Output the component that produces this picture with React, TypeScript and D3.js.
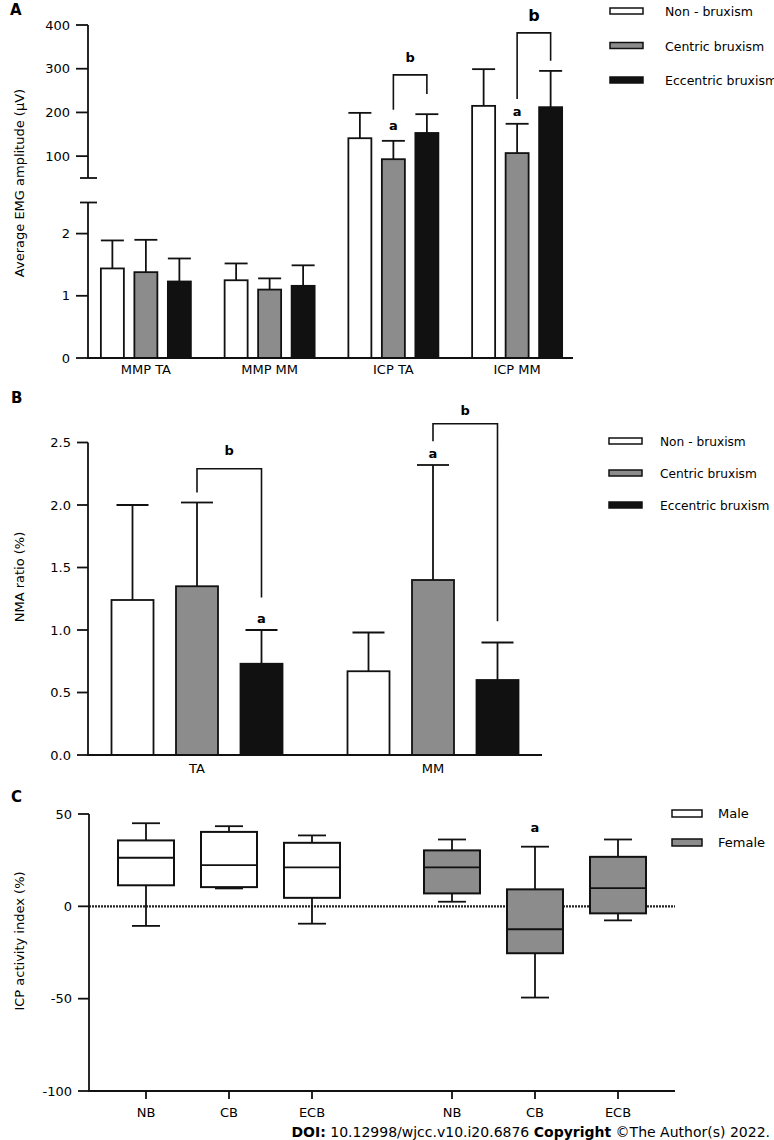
import React from "react";
import * as d3 from "d3";

// ---------- Data ----------
const seriesNames = ["Non - bruxism", "Centric bruxism", "Eccentric bruxism"];
const seriesFill = ["#ffffff", "#8c8c8c", "#111111"];

// Panel A
const groupsA = ["MMP TA", "MMP MM", "ICP TA", "ICP MM"];
const nonMeanA = [1.44, 1.25, 141, 215];
const nonSdA = [0.45, 0.27, 58, 84];
const cenMeanA = [1.38, 1.1, 93, 107];
const cenSdA = [0.52, 0.18, 42, 67];
const eccMeanA = [1.23, 1.16, 153, 212];
const eccSdA = [0.37, 0.33, 43, 83];
const lowTicksA = [0, 1, 2];
const highTicksA = [100, 200, 300, 400];
const bracketsA = [
  { g: "ICP TA", a: 1, b: 2, top: 286, l: 206, r: 242, label: "b", big: false },
  { g: "ICP MM", a: 1, b: 2, top: 382, l: 231, r: 318, label: "b", big: true },
];
const marksA = [
  { g: "ICP TA", s: 1, v: 160, label: "a" },
  { g: "ICP MM", s: 1, v: 192, label: "a" },
];

// Panel B
const groupsB = ["TA", "MM"];
const nonMeanB = [1.24, 0.67];
const nonSdB = [0.76, 0.31];
const cenMeanB = [1.35, 1.4];
const cenSdB = [0.67, 0.92];
const eccMeanB = [0.73, 0.6];
const eccSdB = [0.27, 0.3];
const ticksB = [0, 0.5, 1.0, 1.5, 2.0, 2.5];
const bracketsB = [
  { g: "TA", a: 1, b: 2, top: 2.29, l: 2.1, r: 1.26, label: "b", lv: 2.4 },
  { g: "MM", a: 1, b: 2, top: 2.65, l: 2.51, r: 1.07, label: "b", lv: 2.72 },
];
const marksB = [
  { g: "TA", s: 2, v: 1.06, label: "a" },
  { g: "MM", s: 1, v: 2.38, label: "a" },
];

// Panel C
const categoriesC = ["NB", "CB", "ECB"];
const sexes = ["Male", "Female"];
const sexFill = ["#ffffff", "#8c8c8c"];
const maleMin = [-10.6, 9.7, -9.4];
const maleQ1 = [11.4, 10.4, 4.6];
const maleMed = [26.3, 22.3, 21.1];
const maleQ3 = [35.7, 40.3, 34.4];
const maleMax = [45, 43.4, 38.4];
const femMin = [2.5, -49.4, -7.6];
const femQ1 = [7, -25.4, -3.8];
const femMed = [21.1, -12.4, 9.9];
const femQ3 = [30.3, 9.2, 26.8];
const femMax = [36.2, 32.3, 36.2];
const ticksC = [50, 0, -50, -100];
const marksC = [{ sex: "Female", cat: "CB", v: 40, label: "a" }];

const FONT = "'DejaVu Sans', Verdana, sans-serif";
const FS = 13;

// ---------- Panel A ----------
function PanelA() {
  const axisX = 88;
  const yLow = d3.scaleLinear().domain([0, 2.5]).range([358, 202.5]);
  const yHigh = d3.scaleLinear().domain([50, 400]).range([178, 25]);
  const y = (v: number) => (v <= 2.5 ? yLow(v) : yHigh(v));
  const x0 = d3.scalePoint<string>().domain(groupsA).range([84, 579]).padding(0.5);
  const x1 = d3.scalePoint<string>().domain(seriesNames).range([-33.5, 33.5]);
  const bw = 23;
  const means = [nonMeanA, cenMeanA, eccMeanA];
  const sds = [nonSdA, cenSdA, eccSdA];
  const base = yLow(0);
  const cx = (g: string, s: number) => (x0(g) as number) + (x1(seriesNames[s]) as number);

  return (
    <g>
      <text x={10} y={15} fontSize={15} fontWeight="bold" fontFamily={FONT}>A</text>
      {groupsA.map((g, gi) =>
        seriesNames.map((s, si) => {
          const c = cx(g, si);
          const top = y(means[si][gi]);
          const et = y(means[si][gi] + sds[si][gi]);
          return (
            <g key={g + s}>
              <line x1={c} x2={c} y1={top} y2={et} stroke="#111" strokeWidth={1.8} />
              <line x1={c - bw / 2} x2={c + bw / 2} y1={et} y2={et} stroke="#111" strokeWidth={1.8} />
              <rect x={c - bw / 2} y={top} width={bw} height={base - top} fill={seriesFill[si]} stroke="#111" strokeWidth={1.8} />
            </g>
          );
        })
      )}
      <line x1={axisX} x2={axisX} y1={yHigh(400)} y2={yHigh(50)} stroke="#111" strokeWidth={1.8} />
      <line x1={axisX} x2={axisX} y1={yLow(2.5)} y2={yLow(0) + 1} stroke="#111" strokeWidth={1.8} />
      <line x1={axisX - 8} x2={axisX + 9} y1={yHigh(50)} y2={yHigh(50)} stroke="#111" strokeWidth={1.8} />
      <line x1={axisX - 8} x2={axisX + 9} y1={yLow(2.5)} y2={yLow(2.5)} stroke="#111" strokeWidth={1.8} />
      {highTicksA.map((t) => (
        <g key={"h" + t}>
          <line x1={axisX - 12} x2={axisX} y1={yHigh(t)} y2={yHigh(t)} stroke="#111" strokeWidth={1.8} />
          <text x={axisX - 18} y={yHigh(t) + 4.5} textAnchor="end" fontSize={FS} fontFamily={FONT}>{t}</text>
        </g>
      ))}
      {lowTicksA.map((t) => (
        <g key={"l" + t}>
          <line x1={axisX - 12} x2={axisX} y1={yLow(t)} y2={yLow(t)} stroke="#111" strokeWidth={1.8} />
          <text x={axisX - 18} y={yLow(t) + 4.5} textAnchor="end" fontSize={FS} fontFamily={FONT}>{t}</text>
        </g>
      ))}
      <line x1={axisX} x2={573} y1={base} y2={base} stroke="#111" strokeWidth={1.8} />
      {groupsA.map((g) => (
        <text key={g} x={x0(g)} y={374} textAnchor="middle" fontSize={FS} fontFamily={FONT}>{g}</text>
      ))}
      <text transform={`translate(24,${183}) rotate(-90)`} textAnchor="middle" fontSize={FS} fontFamily={FONT}>
        Average EMG amplitude  (μV)
      </text>
      {bracketsA.map((b, i) => {
        const xa = cx(b.g, b.a);
        const xb = cx(b.g, b.b);
        return (
          <g key={"br" + i}>
            <path d={`M${xa},${y(b.l)}V${y(b.top)}H${xb}V${y(b.r)}`} fill="none" stroke="#111" strokeWidth={1.6} />
            <text x={(xa + xb) / 2} y={y(b.top) - (b.big ? 12 : 13)} textAnchor="middle" fontSize={b.big ? 16 : 13} fontWeight="bold" fontFamily={FONT}>{b.label}</text>
          </g>
        );
      })}
      {marksA.map((m, i) => (
        <text key={"m" + i} x={cx(m.g, m.s)} y={y(m.v)} textAnchor="middle" fontSize={FS} fontWeight="bold" fontFamily={FONT}>{m.label}</text>
      ))}
      {seriesNames.map((s, i) => (
        <g key={"lg" + s}>
          <rect x={610} y={8 + i * 34.5} width={33} height={6} fill={seriesFill[i]} stroke="#111" strokeWidth={1.5} />
          <text x={665} y={16 + i * 34.5} fontSize={12.5} fontFamily={FONT}>{s}</text>
        </g>
      ))}
    </g>
  );
}

// ---------- Panel B ----------
function PanelB() {
  const axisX = 88;
  const y = d3.scaleLinear().domain([0, 2.5]).range([755, 442.5]);
  const x0 = d3.scalePoint<string>().domain(groupsB).range([79, 551]).padding(0.5);
  const x1 = d3.scalePoint<string>().domain(seriesNames).range([-64.5, 64.5]);
  const bw = 42;
  const cap = 32;
  const means = [nonMeanB, cenMeanB, eccMeanB];
  const sds = [nonSdB, cenSdB, eccSdB];
  const base = y(0);
  const cx = (g: string, s: number) => (x0(g) as number) + (x1(seriesNames[s]) as number);
  return (
    <g>
      <text x={11} y={403} fontSize={15} fontWeight="bold" fontFamily={FONT}>B</text>
      {groupsB.map((g, gi) =>
        seriesNames.map((s, si) => {
          const c = cx(g, si);
          const top = y(means[si][gi]);
          const et = y(means[si][gi] + sds[si][gi]);
          return (
            <g key={g + s}>
              <line x1={c} x2={c} y1={top} y2={et} stroke="#111" strokeWidth={1.8} />
              <line x1={c - cap / 2} x2={c + cap / 2} y1={et} y2={et} stroke="#111" strokeWidth={1.8} />
              <rect x={c - bw / 2} y={top} width={bw} height={base - top} fill={seriesFill[si]} stroke="#111" strokeWidth={1.8} />
            </g>
          );
        })
      )}
      <line x1={axisX} x2={axisX} y1={y(2.5)} y2={base + 1} stroke="#111" strokeWidth={1.8} />
      {ticksB.map((t) => (
        <g key={t}>
          <line x1={axisX - 11} x2={axisX} y1={y(t)} y2={y(t)} stroke="#111" strokeWidth={1.8} />
          <text x={axisX - 17} y={y(t) + 4.5} textAnchor="end" fontSize={FS} fontFamily={FONT}>{t.toFixed(1)}</text>
        </g>
      ))}
      <line x1={axisX} x2={542} y1={base} y2={base} stroke="#111" strokeWidth={1.8} />
      {groupsB.map((g) => (
        <text key={g} x={x0(g)} y={773} textAnchor="middle" fontSize={FS} fontFamily={FONT}>{g}</text>
      ))}
      <text transform={`translate(24,${577}) rotate(-90)`} textAnchor="middle" fontSize={FS} fontFamily={FONT}>
        NMA ratio  (%)
      </text>
      {bracketsB.map((b, i) => {
        const xa = cx(b.g, b.a);
        const xb = cx(b.g, b.b);
        return (
          <g key={"br" + i}>
            <path d={`M${xa},${y(b.l)}V${y(b.top)}H${xb}V${y(b.r)}`} fill="none" stroke="#111" strokeWidth={1.6} />
            <text x={(xa + xb) / 2} y={y(b.lv)} textAnchor="middle" fontSize={FS} fontWeight="bold" fontFamily={FONT}>{b.label}</text>
          </g>
        );
      })}
      {marksB.map((m, i) => (
        <text key={"m" + i} x={cx(m.g, m.s)} y={y(m.v)} textAnchor="middle" fontSize={FS} fontWeight="bold" fontFamily={FONT}>{m.label}</text>
      ))}
      {seriesNames.map((s, i) => (
        <g key={"lg" + s}>
          <rect x={609} y={438 + i * 32} width={33} height={6} fill={seriesFill[i]} stroke="#111" strokeWidth={1.5} />
          <text x={660} y={446 + i * 32} fontSize={12.2} fontFamily={FONT}>{s}</text>
        </g>
      ))}
    </g>
  );
}

// ---------- Panel C ----------
function PanelC() {
  const axisX = 89;
  const y = d3.scaleLinear().domain([-100, 50]).range([1091, 814]);
  const xs = d3.scaleBand<string>().domain(sexes).range([76, 688]);
  const xc = d3.scalePoint<string>().domain(categoriesC).range([-83, 83]);
  const cx = (sex: string, cat: string) => (xs(sex) as number) + xs.bandwidth() / 2 + (xc(cat) as number);
  const stats = [
    [maleMin, maleQ1, maleMed, maleQ3, maleMax],
    [femMin, femQ1, femMed, femQ3, femMax],
  ];
  const bw = 56;
  const cap = 28;
  return (
    <g>
      <text x={11} y={802} fontSize={15} fontWeight="bold" fontFamily={FONT}>C</text>
      <line x1={axisX} x2={675} y1={y(0)} y2={y(0)} stroke="#222" strokeWidth={2.2} strokeDasharray="2,1" />
      {sexes.map((sex, si) =>
        categoriesC.map((cat, ci) => {
          const c = cx(sex, cat);
          const [mn, q1, md, q3, mx] = stats[si].map((a) => a[ci]);
          return (
            <g key={sex + cat}>
              <line x1={c} x2={c} y1={y(mx)} y2={y(q3)} stroke="#111" strokeWidth={1.8} />
              <line x1={c} x2={c} y1={y(q1)} y2={y(mn)} stroke="#111" strokeWidth={1.8} />
              <line x1={c - cap / 2} x2={c + cap / 2} y1={y(mx)} y2={y(mx)} stroke="#111" strokeWidth={1.8} />
              <line x1={c - cap / 2} x2={c + cap / 2} y1={y(mn)} y2={y(mn)} stroke="#111" strokeWidth={1.8} />
              <rect x={c - bw / 2} y={y(q3)} width={bw} height={y(q1) - y(q3)} fill={sexFill[si]} stroke="#111" strokeWidth={2} />
              <line x1={c - bw / 2} x2={c + bw / 2} y1={y(md)} y2={y(md)} stroke="#111" strokeWidth={1.8} />
            </g>
          );
        })
      )}
      <line x1={axisX} x2={axisX} y1={y(50)} y2={y(-100) + 1} stroke="#111" strokeWidth={1.8} />
      {ticksC.map((t) => (
        <g key={t}>
          <line x1={axisX - 11} x2={axisX} y1={y(t)} y2={y(t)} stroke="#111" strokeWidth={1.8} />
          <text x={axisX - 17} y={y(t) + 4.5} textAnchor="end" fontSize={FS} fontFamily={FONT}>{t}</text>
        </g>
      ))}
      <line x1={axisX} x2={675} y1={y(-100)} y2={y(-100)} stroke="#111" strokeWidth={1.8} />
      {sexes.map((sex) =>
        categoriesC.map((cat) => (
          <g key={"t" + sex + cat}>
            <line x1={cx(sex, cat)} x2={cx(sex, cat)} y1={y(-100)} y2={y(-100) + 8} stroke="#111" strokeWidth={1.8} />
            <text x={cx(sex, cat)} y={1117} textAnchor="middle" fontSize={FS} fontFamily={FONT}>{cat}</text>
          </g>
        ))
      )}
      <text transform={`translate(24,${941}) rotate(-90)`} textAnchor="middle" fontSize={FS} fontFamily={FONT}>
        ICP  activity index (%)
      </text>
      {marksC.map((m, i) => (
        <text key={"m" + i} x={cx(m.sex, m.cat)} y={y(m.v)} textAnchor="middle" fontSize={FS} fontWeight="bold" fontFamily={FONT}>{m.label}</text>
      ))}
      {sexes.map((s, i) => (
        <g key={"lg" + s}>
          <rect x={672} y={810 + i * 29} width={30} height={7} fill={sexFill[i]} stroke="#111" strokeWidth={1.5} />
          <text x={718} y={818 + i * 29} fontSize={FS} fontFamily={FONT}>{s}</text>
        </g>
      ))}
    </g>
  );
}

export default function App() {
  return (
    <svg
      width={774}
      height={1140}
      viewBox="0 0 774 1140"
      style={{ position: "absolute", left: 0, top: 0, display: "block", background: "#fff" }}
    >
      <rect width={774} height={1140} fill="#fff" />
      <PanelA />
      <PanelB />
      <PanelC />
      <text x={770} y={1137} textAnchor="end" fontSize={14} fontFamily={FONT}>
        <tspan fontWeight="bold">DOI:</tspan> 10.12998/wjcc.v10.i20.6876{"  "}
        <tspan fontWeight="bold">Copyright</tspan> ©The Author(s) 2022.
      </text>
    </svg>
  );
}
